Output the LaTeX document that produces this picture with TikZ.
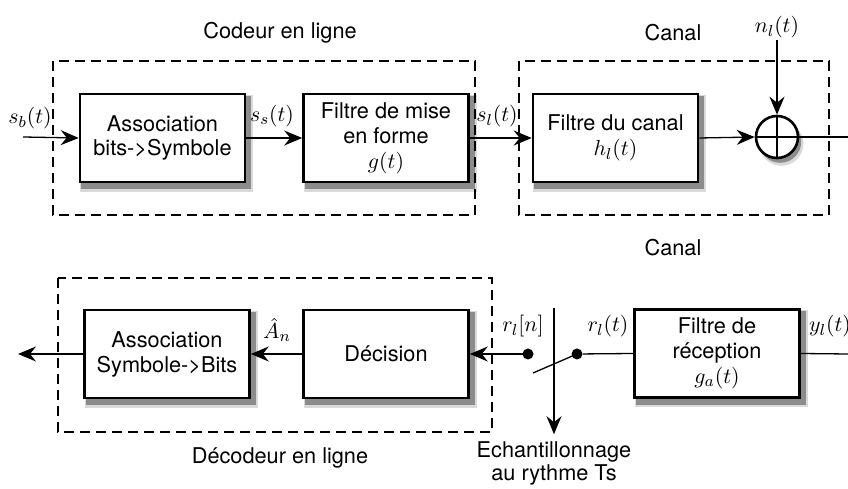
\documentclass[tikz,border=0pt]{standalone}
\usepackage{fontspec}
\setmainfont{TeX Gyre Heros}
\usetikzlibrary{arrows.meta}
\pgfdeclarelayer{fond}
\pgfsetlayers{fond,main}

\tikzset{
  bloc/.style={draw, line width=1.3bp, fill=white, minimum width=82.5bp, minimum height=44bp,
    align=center, font=\fontsize{10.9}{12.5}\selectfont},
  cadre/.style={draw, line width=0.85bp, dash pattern=on 5bp off 3bp},
  fleche/.style={-{Stealth[length=9bp,width=7.5bp,inset=3bp]}, line width=0.65bp},
  trait/.style={line width=0.65bp},
  lab/.style={font=\fontsize{10.9}{12.5}\selectfont, inner sep=1bp},
  titre/.style={font=\fontsize{10.9}{11.5}\selectfont, align=center},
  point/.style={circle, fill=black, inner sep=0pt, minimum size=5.5bp}
}

\begin{document}
\begin{tikzpicture}[x=0.5bp,y=-0.5bp]
    \useasboundingbox (0,0) rectangle (848,489);

    % codeur en ligne
    \draw[cadre] (53,61) rectangle (475,215);
    \node[titre] (tcod) at (280,33) {Codeur en ligne};
    \coordinate (sb) at (23,137);
    \node[bloc] (assoc) at (162.5,138) {Association\\bits->Symbole};
    \node[bloc] (mef) at (386,138) {Filtre de mise\\en forme\\$g(t)$};
    \node[lab] (lsb) at (30,118) {$s_b(t)$};
    \node[lab] (lss) at (272,116) {$s_s(t)$};
    \draw[fleche] (sb) -- (assoc.west);
    \draw[fleche] (assoc.east) -- (mef.west);

    % canal
    \draw[cadre] (519,61) rectangle (829,215);
    \node[titre] (tcan) at (673,33) {Canal};
    \node[bloc] (hcan) at (615.5,138) {Filtre du canal\\$h_l(t)$};
    \node[draw, circle, line width=1.3bp, fill=white, minimum size=21bp, inner sep=0pt] (add) at (777,137) {};
    \draw[line width=0.9bp] (add.north) -- (add.south) (add.west) -- (add.east);
    \node[lab] (lsl) at (497,116) {$s_l(t)$};
    \node[lab] (lnl) at (777,27) {$n_l(t)$};
    \coordinate (e1) at (848,137);
    \draw[fleche] (mef.east) -- (hcan.west);
    \draw[fleche] (hcan.east) -- (add.west);
    \draw[fleche] (lnl) -- (add.north);
    \draw[trait] (add.east) -- (e1);

    % reception
    \node[titre] (tcan2) at (673,248) {Canal};
    \coordinate (e2) at (848,354);
    \node[bloc] (recep) at (717,353.5) {Filtre de\\réception\\$g_a(t)$};
    \node[lab] (lyl) at (830,326) {$y_l(t)$};
    \node[lab] (lrt) at (608,326) {$r_l(t)$};
    \node[lab] (lrn) at (523,326) {$r_l[n]$};
    \node[point] (d2) at (577,354) {};
    \node[point] (d1) at (528,354) {};
    \coordinate (sw) at (533,373);
    \coordinate (ech0) at (554,308);
    \node[titre] (ech) at (554,463) {Echantillonnage\\au rythme Ts};
    \draw[trait] (e2) -- (recep.east);
    \draw[trait] (recep.west) -- (d2);
    \draw[trait] (sw) -- (d2.center);
    \draw[fleche] (ech0) -- (ech.north);

    % decodeur en ligne
    \draw[cadre] (58,278) rectangle (492,432);
    \node[titre] (tdec) at (280,458) {Décodeur en ligne};
    \node[bloc] (dec) at (386,354) {Décision};
    \node[bloc] (assocb) at (167,354) {Association\\Symbole->Bits};
    \node[lab] (lan) at (277,330) {$\hat{A}_n$};
    \coordinate (sortie) at (18,354);
    \draw[fleche] (d1.center) -- (dec.east);
    \draw[fleche] (dec.west) -- (assocb.east);
    \draw[fleche] (assocb.west) -- (sortie);

    % ombres
    \begin{pgfonlayer}{fond}
      \foreach \b in {assoc,mef,hcan,recep,dec,assocb} {
        \fill[black!15] ([shift={(0.8bp,-4.2bp)}]\b.south west) rectangle ([shift={(3.4bp,-1bp)}]\b.north east);
        \fill[black!45] ([shift={(1.2bp,-3bp)}]\b.south west) rectangle ([shift={(2.4bp,-1.5bp)}]\b.north east);
      }
      \fill[black!15] ([shift={(2.2bp,-3.4bp)}]add.center) circle (11bp);
      \fill[black!45] ([shift={(1.6bp,-2.4bp)}]add.center) circle (10.5bp);
    \end{pgfonlayer}
\end{tikzpicture}
\end{document}
